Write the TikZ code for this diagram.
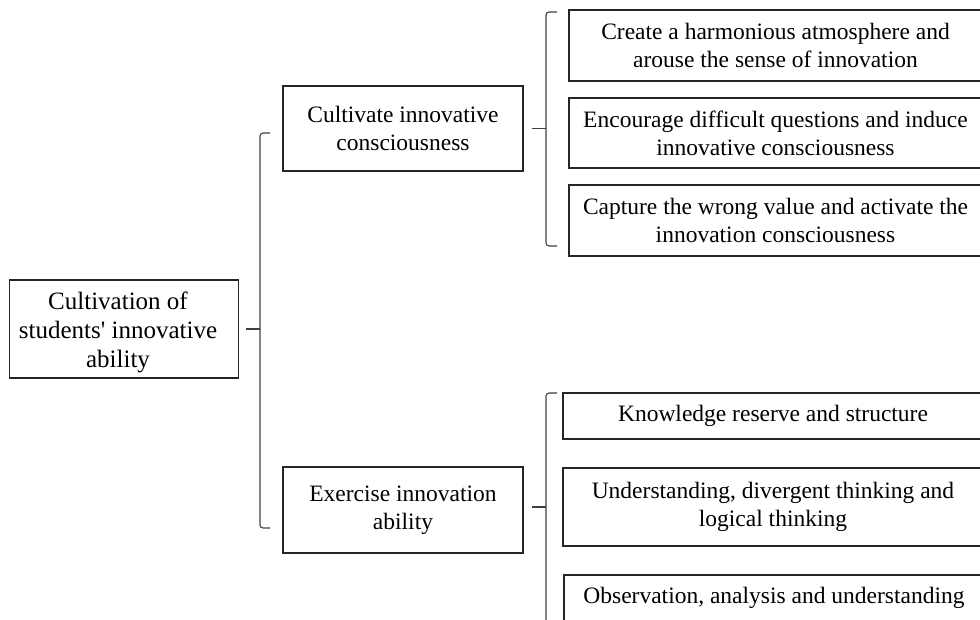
\documentclass[tikz,border=0pt]{standalone}
\usepackage{fontspec}
\setmainfont{Liberation Serif}
\begin{document}
\begin{tikzpicture}[x=1pt,y=-1pt,
  box/.style={draw=black!85, line width=1.1pt, align=center, inner sep=0pt,
    font=\fontsize{23.5}{28}\selectfont},
  brace/.style={draw=black!75, line width=1.1pt, rounded corners=3pt}]
\useasboundingbox (0,0) rectangle (980,619);
\clip (0,0) rectangle (980,619);
% nodes
\node[box, minimum width=229pt, minimum height=98pt] (root) at (124,329) {};
\node[align=center, inner sep=0pt, font=\fontsize{25}{29}\selectfont] (roottext) at ([xshift=-6pt,yshift=-3pt]root.center) {Cultivation of\\students\textquotesingle{} innovative\\ability};
\node[box, minimum width=240pt, minimum height=85pt] (m1) at (403,128.5) {Cultivate innovative\\consciousness};
\node[box, minimum width=240pt, minimum height=86pt] (m2) at (403,510) {Exercise innovation\\ability};
\node[box, minimum width=413pt, minimum height=71pt] (r1) at (775.5,45.5) {Create a harmonious atmosphere and\\arouse the sense of innovation};
\node[box, minimum width=413pt, minimum height=70pt] (r2) at (775.5,133) {Encourage difficult questions and induce\\innovative consciousness};
\node[box, minimum width=413pt, minimum height=71pt] (r3) at (775.5,220.5) {Capture the wrong value and activate the\\innovation consciousness};
\node[box, minimum width=420pt, minimum height=46pt] (s1) at (773,416) {Knowledge reserve and structure};
\node[box, minimum width=420pt, minimum height=78pt] (s2) at (773,507) {Understanding, divergent thinking and\\logical thinking};
\node[box, minimum width=420pt, minimum height=46pt] (s3) at (774,598) {Observation, analysis and understanding};
% left brace
\coordinate (b0t) at (270,133);
\coordinate (b0b) at (270,528);
\draw[brace] (b0t) -- (260,133) -- (260,528) -- (b0b);
\draw[brace] ([xshift=7pt]root.east) -- (260,329);
% upper right brace
\coordinate (b1t) at (557,12);
\coordinate (b1b) at (557,246);
\draw[brace] (b1t) -- (546,12) -- (546,246) -- (b1b);
\draw[brace] ([xshift=8pt]m1.east) -- (546,128.5);
% lower right brace
\coordinate (b2t) at (557,393);
\coordinate (b2b) at (546,640);
\draw[brace] (b2t) -- (546,393) -- (b2b);
\draw[brace] ([xshift=8pt,yshift=3pt]m2.east) -- (546,507);
\end{tikzpicture}
\end{document}
